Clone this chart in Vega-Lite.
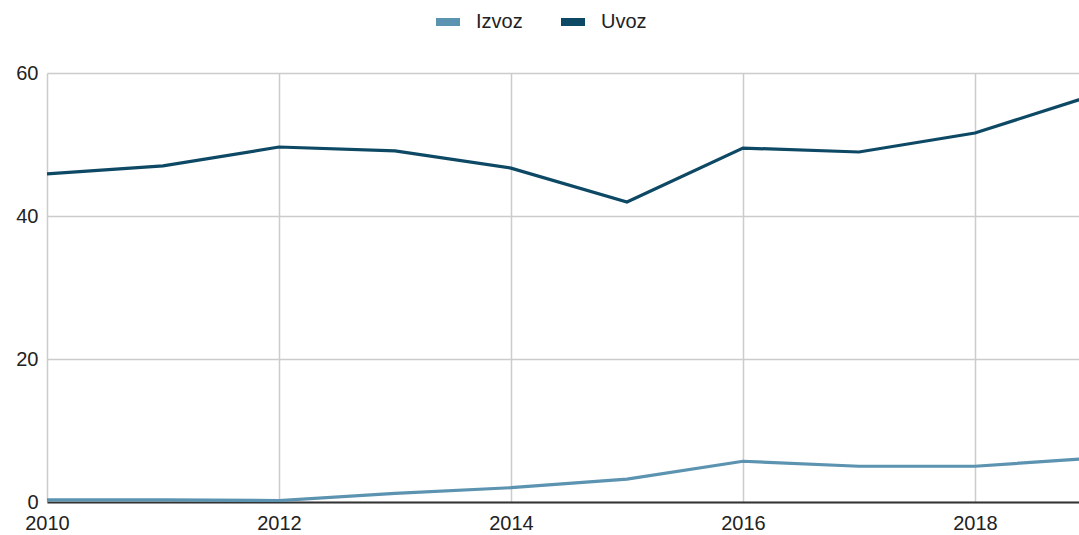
{
  "$schema": "https://vega.github.io/schema/vega-lite/v6.json",
  "width": 1032,
  "height": 429,
  "autosize": {"type": "none"},
  "padding": {"left": 47, "top": 73, "right": 0, "bottom": 33},
  "background": "white",
  "config": {
    "view": {"stroke": null},
    "font": "Liberation Sans"
  },
  "data": {
    "values": [
      {"godina": 2010, "serija": "Izvoz", "vrijednost": 0.3},
      {"godina": 2011, "serija": "Izvoz", "vrijednost": 0.3},
      {"godina": 2012, "serija": "Izvoz", "vrijednost": 0.2},
      {"godina": 2013, "serija": "Izvoz", "vrijednost": 1.2},
      {"godina": 2014, "serija": "Izvoz", "vrijednost": 2.0},
      {"godina": 2015, "serija": "Izvoz", "vrijednost": 3.2},
      {"godina": 2016, "serija": "Izvoz", "vrijednost": 5.7},
      {"godina": 2017, "serija": "Izvoz", "vrijednost": 5.0},
      {"godina": 2018, "serija": "Izvoz", "vrijednost": 5.0},
      {"godina": 2019, "serija": "Izvoz", "vrijednost": 6.1},
      {"godina": 2010, "serija": "Uvoz", "vrijednost": 45.9},
      {"godina": 2011, "serija": "Uvoz", "vrijednost": 47.0},
      {"godina": 2012, "serija": "Uvoz", "vrijednost": 49.65},
      {"godina": 2013, "serija": "Uvoz", "vrijednost": 49.1},
      {"godina": 2014, "serija": "Uvoz", "vrijednost": 46.7},
      {"godina": 2015, "serija": "Uvoz", "vrijednost": 41.95},
      {"godina": 2016, "serija": "Uvoz", "vrijednost": 49.5},
      {"godina": 2017, "serija": "Uvoz", "vrijednost": 48.95},
      {"godina": 2018, "serija": "Uvoz", "vrijednost": 51.6},
      {"godina": 2019, "serija": "Uvoz", "vrijednost": 56.8}
    ]
  },
  "mark": {"type": "line", "strokeWidth": 3.2, "clip": true},
  "encoding": {
    "x": {
      "field": "godina",
      "type": "quantitative",
      "scale": {"domain": [2010, 2018.897], "nice": false, "zero": false},
      "axis": {
        "title": null,
        "values": [2010, 2012, 2014, 2016, 2018],
        "format": "d",
        "ticks": false,
        "domain": true,
        "domainColor": "#333333",
        "domainWidth": 2,
        "grid": true,
        "gridColor": "#cccccc",
        "gridWidth": 1.5,
        "labelFontSize": 20,
        "labelColor": "#222222",
        "labelPadding": 11,
        "labelFlush": false
      }
    },
    "y": {
      "field": "vrijednost",
      "type": "quantitative",
      "scale": {"domain": [0, 60], "nice": false},
      "axis": {
        "title": null,
        "values": [0, 20, 40, 60],
        "ticks": false,
        "domain": false,
        "grid": true,
        "gridColor": "#cccccc",
        "gridWidth": 1.5,
        "labelFontSize": 20,
        "labelColor": "#222222",
        "labelPadding": 9
      }
    },
    "color": {
      "field": "serija",
      "type": "nominal",
      "scale": {"domain": ["Izvoz", "Uvoz"], "range": ["#5b93b0", "#0d4965"]},
      "legend": {
        "title": null,
        "orient": "none",
        "direction": "horizontal",
        "legendX": 385,
        "legendY": -67,
        "symbolType": "stroke",
        "symbolSize": 576,
        "symbolStrokeWidth": 8,
        "labelFontSize": 20,
        "labelColor": "#222222",
        "labelOffset": 12,
        "columnPadding": 22
      }
    }
  }
}
